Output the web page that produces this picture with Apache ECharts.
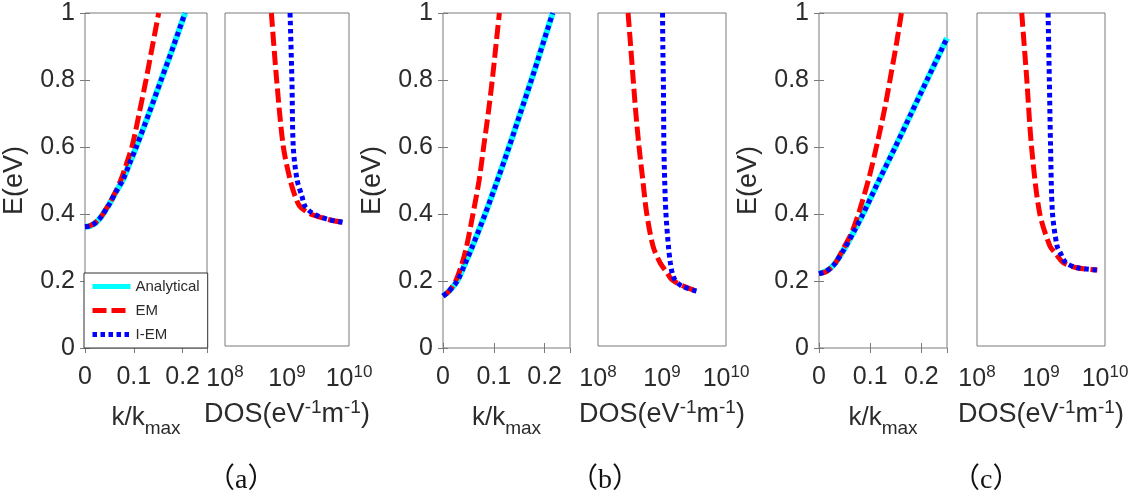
<!DOCTYPE html>
<html>
<head>
<meta charset="utf-8">
<script src="https://cdn.jsdelivr.net/npm/echarts@6/dist/echarts.min.js"></script>
<style>
  html, body { margin: 0; padding: 0; background: #fff; }
  #chart { width: 1144px; height: 490px; }
</style>
</head>
<body>
<div id="chart"></div>
<script>
// ---- data ----
// (a) E vs k/kmax
const aK     = [0, 0.01, 0.02, 0.03, 0.037, 0.05, 0.063, 0.077, 0.091, 0.105, 0.131, 0.156, 0.181, 0.205];
const aE     = [0.362, 0.364, 0.372, 0.386, 0.4, 0.43, 0.465, 0.5, 0.55, 0.6, 0.7, 0.8, 0.9, 1.0];
const aKEm   = [0, 0.01, 0.02, 0.03, 0.037, 0.057, 0.073, 0.085, 0.096, 0.104, 0.111, 0.125, 0.138, 0.151];
const aEEm   = [0.362, 0.365, 0.373, 0.387, 0.4, 0.45, 0.5, 0.55, 0.6, 0.65, 0.7, 0.8, 0.9, 1.0];
// (a) E vs DOS
const aDosE   = [1.0, 0.8, 0.6, 0.5, 0.45, 0.42, 0.4, 0.39, 0.38, 0.371];
const aDosEm  = [5.6e8, 6.8e8, 8.7e8, 1.12e9, 1.35e9, 1.6e9, 2.2e9, 3.0e9, 4.6e9, 8.1e9];
const aDosIem = [1.12e9, 1.2e9, 1.26e9, 1.45e9, 1.74e9, 1.95e9, 2.5e9, 3.2e9, 4.6e9, 8.1e9];

// (b)
const bK     = [0, 0.012, 0.028, 0.043, 0.057, 0.083, 0.107, 0.13, 0.152, 0.174, 0.195, 0.216];
const bE     = [0.155, 0.17, 0.2, 0.25, 0.3, 0.4, 0.5, 0.6, 0.7, 0.8, 0.9, 1.0];
const bKEm   = [0, 0.012, 0.025, 0.037, 0.046, 0.059, 0.071, 0.08, 0.089, 0.097, 0.104, 0.111];
const bEEm   = [0.155, 0.17, 0.2, 0.25, 0.3, 0.4, 0.5, 0.6, 0.7, 0.8, 0.9, 1.0];
const bDosE   = [1.0, 0.9, 0.8, 0.7, 0.6, 0.5, 0.4, 0.3, 0.25, 0.22, 0.2, 0.18, 0.165];
const bDosEm  = [2.95e8, 3.24e8, 3.55e8, 3.9e8, 4.37e8, 5.0e8, 5.75e8, 7.24e8, 9.33e8, 1.2e9, 1.41e9, 2.14e9, 3.47e9];
const bDosIem = [1.02e9, 1.03e9, 1.05e9, 1.06e9, 1.07e9, 1.1e9, 1.15e9, 1.26e9, 1.35e9, 1.44e9, 1.58e9, 2.04e9, 3.47e9];

// (c)
const cK     = [0, 0.015, 0.03, 0.051, 0.069, 0.086, 0.117, 0.149, 0.18, 0.211, 0.25];
const cE     = [0.222, 0.23, 0.25, 0.3, 0.35, 0.4, 0.5, 0.6, 0.7, 0.8, 0.925];
const cKEm   = [0, 0.015, 0.031, 0.047, 0.064, 0.079, 0.098, 0.115, 0.129, 0.141, 0.152, 0.161];
const cEEm   = [0.222, 0.229, 0.251, 0.295, 0.345, 0.41, 0.51, 0.62, 0.72, 0.82, 0.915, 1.0];
const cDosE   = [1.0, 0.8, 0.6, 0.4, 0.3, 0.28, 0.25, 0.235, 0.228];
const cDosEm  = [5.0e8, 6.0e8, 7.1e8, 9.5e8, 1.38e9, 1.66e9, 2.24e9, 3.63e9, 7.59e9];
const cDosIem = [1.29e9, 1.35e9, 1.41e9, 1.51e9, 1.78e9, 2.0e9, 2.45e9, 3.7e9, 7.59e9];

const captions = ['（a）', '（b）', '（c）'];
const seriesNames = ['Analytical', 'EM', 'I-EM'];

// ---- layout / style ----
const font = "'Liberation Sans', Arial, sans-serif";
const txt = '#2b2b2b';
const axc = '#7a7a7a';

const pair = (xs, ys) => xs.map((x, i) => [x, ys[i]]);

// left panels (k) and right panels (DOS)
const panels = [
  { left: 83,  width: 124, height: 335, log: false },
  { left: 225, width: 124, height: 333, log: true },
  { left: 443, width: 127, height: 335, log: false },
  { left: 598, width: 128, height: 333, log: true },
  { left: 819, width: 128, height: 335, log: false },
  { left: 977, width: 128, height: 333, log: true }
];
const captionX = [235, 598, 980];

const lineStyles = {
  'Analytical': { color: '#00ffff', width: 6, type: 'solid' },
  'EM':         { color: '#ff0000', width: 5, type: [14, 5] },
  'I-EM':       { color: '#0000ff', width: 5, type: [4.5, 3.5] }
};

const panelData = [
  { 'Analytical': pair(aK, aE), 'EM': pair(aKEm, aEEm), 'I-EM': pair(aK, aE) },
  { 'EM': pair(aDosEm, aDosE), 'I-EM': pair(aDosIem, aDosE) },
  { 'Analytical': pair(bK, bE), 'EM': pair(bKEm, bEEm), 'I-EM': pair(bK, bE) },
  { 'EM': pair(bDosEm, bDosE), 'I-EM': pair(bDosIem, bDosE) },
  { 'Analytical': pair(cK, cE), 'EM': pair(cKEm, cEEm), 'I-EM': pair(cK, cE) },
  { 'EM': pair(cDosEm, cDosE), 'I-EM': pair(cDosIem, cDosE) }
];

const grid = [], xAxis = [], yAxis = [], series = [];
const tick = { show: true, inside: true, length: 5, lineStyle: { color: axc } };

panels.forEach((p, g) => {
  grid.push({ left: p.left, top: 13, width: p.width, height: p.height,
    show: true, borderColor: axc, borderWidth: 1, backgroundColor: '#fff' });

  if (!p.log) {
    xAxis.push({
      gridIndex: g, type: 'value', position: 'bottom', min: 0, max: 0.25, interval: 0.1,
      axisLine: { show: false }, axisTick: tick, splitLine: { show: false },
      axisLabel: { margin: 17, fontSize: 25, color: txt, fontFamily: font, showMaxLabel: false },
      name: '{n|k/k}{s|max}', nameLocation: 'middle', nameGap: 57,
      nameTextStyle: { rich: {
        n: { fontSize: 26, lineHeight: 30, color: txt, fontFamily: font, verticalAlign: 'top' },
        s: { fontSize: 19, lineHeight: 19, color: txt, fontFamily: font, padding: [18, 0, 0, 0] }
      } }
    });
    xAxis.push({
      gridIndex: g, type: 'value', position: 'top', min: 0, max: 0.25, interval: 0.1,
      axisLine: { show: false }, axisTick: tick, axisLabel: { show: false }, splitLine: { show: false }
    });
    yAxis.push({
      gridIndex: g, type: 'value', position: 'left', min: 0, max: 1, interval: 0.2,
      axisLine: { show: false }, axisTick: tick, splitLine: { show: false },
      axisLabel: { margin: 10, fontSize: 25, color: txt, fontFamily: font },
      name: 'E(eV)', nameLocation: 'middle', nameGap: 57,
      nameTextStyle: { fontSize: 27, color: txt, fontFamily: font }
    });
    yAxis.push({
      gridIndex: g, type: 'value', position: 'right', min: 0, max: 1, interval: 0.2,
      axisLine: { show: false }, axisTick: tick, axisLabel: { show: false }, splitLine: { show: false }
    });
  } else {
    xAxis.push({
      gridIndex: g, type: 'log', logBase: 10, position: 'bottom', min: 1e8, max: 1e10,
      axisLine: { show: false }, axisTick: { show: false }, splitLine: { show: false },
      axisLabel: {
        margin: 18,
        formatter: v => '{b|10}{e|' + Math.round(Math.log10(v)) + '}',
        rich: {
          b: { fontSize: 25, lineHeight: 28, color: txt, fontFamily: font, verticalAlign: 'bottom' },
          e: { fontSize: 17, lineHeight: 17, color: txt, fontFamily: font, verticalAlign: 'top', padding: [0, 0, 12, 0] }
        }
      },
      name: '{n|DOS(eV}{p|-1}{n|m}{p|-1}{n|)}', nameLocation: 'middle', nameGap: 52,
      nameTextStyle: { rich: {
        n: { fontSize: 27, lineHeight: 30, color: txt, fontFamily: font, verticalAlign: 'bottom' },
        p: { fontSize: 19, lineHeight: 19, color: txt, fontFamily: font, verticalAlign: 'top', padding: [0, 0, 14, 0] }
      } }
    });
    xAxis.push({
      gridIndex: g, type: 'log', logBase: 10, position: 'top', min: 1e8, max: 1e10,
      axisLine: { show: false }, axisTick: { show: false }, axisLabel: { show: false }, splitLine: { show: false }
    });
    yAxis.push({
      gridIndex: g, type: 'value', min: 0, max: 1, interval: 0.2,
      axisLine: { show: false }, axisTick: { show: false }, axisLabel: { show: false }, splitLine: { show: false }
    });
    yAxis.push({
      gridIndex: g, type: 'value', position: 'right', min: 0, max: 1, interval: 0.2, show: false
    });
  }

  const xi = xAxis.length - 2, yi = yAxis.length - 2;
  seriesNames.forEach(name => {
    const d = panelData[g][name];
    if (!d) return;
    series.push({
      name, type: 'line', xAxisIndex: xi, yAxisIndex: yi, data: d,
      symbol: 'none', smooth: 0.3,
      lineStyle: lineStyles[name], itemStyle: { color: lineStyles[name].color },
      animation: false, silent: true, clip: true
    });
  });
});

const chart = echarts.init(document.getElementById('chart'));
chart.setOption({
  backgroundColor: '#fff',
  animation: false,
  grid, xAxis, yAxis, series,
  legend: {
    data: seriesNames, orient: 'vertical', left: 84, top: 273,
    itemWidth: 38, itemHeight: 12, itemGap: 9,
    padding: [6, 8, 6, 6],
    itemStyle: { opacity: 0 },
    lineStyle: { width: 5 },
    borderColor: '#333', borderWidth: 1, backgroundColor: '#fff',
    textStyle: { fontSize: 15, color: txt, fontFamily: font }
  },
  graphic: captions.map((c, i) => ({
    type: 'text', left: captionX[i] - 28, top: 467,
    style: { text: c, fontSize: 28, fill: '#111', fontFamily: "'Liberation Serif', 'Noto Sans CJK SC', serif" }
  }))
});
window.addEventListener('resize', () => chart.resize());
</script>
</body>
</html>
